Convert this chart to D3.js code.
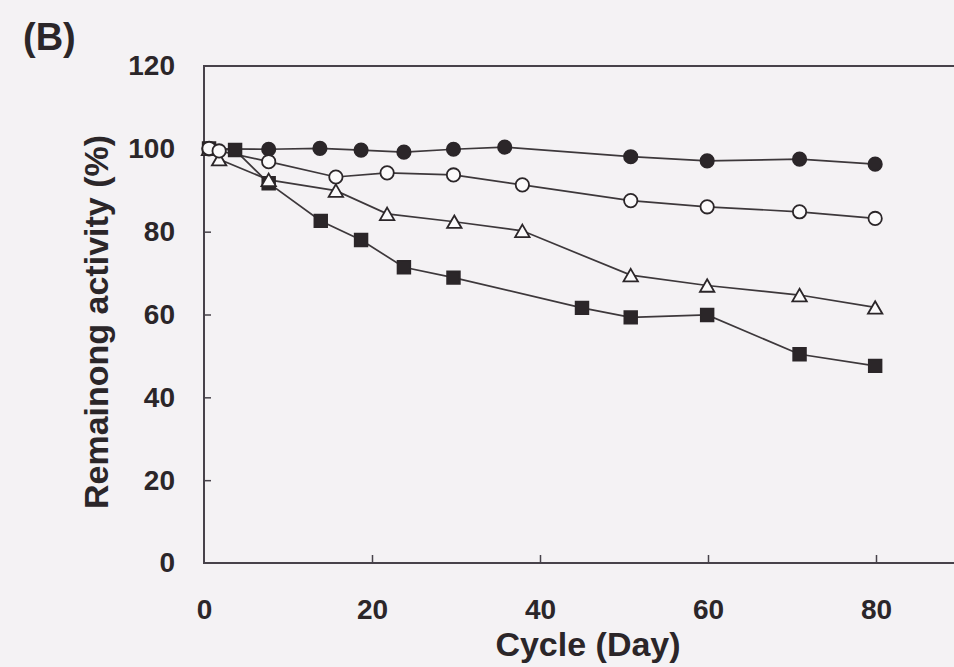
<!DOCTYPE html>
<html>
<head>
<meta charset="utf-8">
<script src="https://cdn.jsdelivr.net/npm/d3@7"></script>
<style>
  html, body { margin: 0; padding: 0; background: #f4f2f4; }
  svg { display: block; }
  text { font-family: "Liberation Sans", Arial, sans-serif; font-weight: bold; fill: #2b2629; }
</style>
</head>
<body>
<svg id="chart" width="954" height="667"></svg>
<script>
// ---- data ----
const xTicks = [0, 20, 40, 60, 80];
const yTicks = [0, 20, 40, 60, 80, 100, 120];

const filledCircleDays   = [0.6, 7.7, 13.8, 18.7, 23.8, 29.7, 35.8, 50.8, 59.9, 70.9, 79.9];
const filledCircleValues = [100, 99.9, 100.1, 99.7, 99.2, 99.9, 100.4, 98.1, 97.1, 97.5, 96.3];

const openCircleDays   = [0.6, 1.8, 7.7, 15.7, 21.8, 29.7, 37.9, 50.8, 59.9, 70.9, 79.9];
const openCircleValues = [100.1, 99.5, 96.9, 93.2, 94.2, 93.7, 91.3, 87.5, 86.0, 84.8, 83.2];

const openTriangleDays   = [0.6, 1.8, 7.7, 15.7, 21.8, 29.8, 37.9, 50.8, 59.9, 70.9, 79.9];
const openTriangleValues = [100, 97.5, 92.5, 89.9, 84.3, 82.4, 80.2, 69.5, 67.0, 64.7, 61.7];

const filledSquareDays   = [0.6, 3.7, 7.7, 13.9, 18.7, 23.8, 29.7, 45.0, 50.8, 59.9, 70.9, 79.9];
const filledSquareValues = [100.1, 99.7, 91.7, 82.6, 78.0, 71.4, 68.9, 61.6, 59.3, 59.9, 50.4, 47.6];

// ---- drawing ----
const svg = d3.select("#chart");
const ink = "#2b2629";
const lineInk = "#3d383b";

const x = d3.scaleLinear().domain([0, 100]).range([204, 1044]);
const y = d3.scaleLinear().domain([0, 120]).range([563, 66]);

// frame (right side lies beyond the visible area, as in the cropped original)
svg.append("rect")
  .attr("x", x(0)).attr("y", y(120))
  .attr("width", x(100) - x(0)).attr("height", y(0) - y(120))
  .attr("fill", "none").attr("stroke", "#47424a").attr("stroke-width", 2);

// axes with inward ticks
const yAxis = svg.append("g").attr("transform", `translate(${x(0)},0)`)
  .call(d3.axisLeft(y).tickValues(yTicks).tickSize(-7).tickPadding(29).tickFormat(d3.format("d")));
const xAxis = svg.append("g").attr("transform", `translate(0,${y(0)})`)
  .call(d3.axisBottom(x).tickValues(xTicks).tickSize(-8).tickPadding(36).tickFormat(d3.format("d")));
[yAxis, xAxis].forEach(g => {
  g.select(".domain").remove();
  g.selectAll(".tick line").attr("stroke", "#47424a").attr("stroke-width", 1.5);
  g.selectAll(".tick text").style("font-size", "28px").attr("fill", ink);
});
yAxis.selectAll(".tick line").filter(d => d === 0 || d === 120).remove();
xAxis.selectAll(".tick line").filter(d => d === 0).remove();

// titles
svg.append("text").attr("x", 23).attr("y", 50).style("font-size", "38px").text("(B)");
svg.append("text").attr("x", 588).attr("y", 656).attr("text-anchor", "middle")
  .style("font-size", "34px").text("Cycle (Day)");
svg.append("text").attr("transform", "translate(108,322) rotate(-90)")
  .attr("text-anchor", "middle").style("font-size", "34px").text("Remainong activity (%)");

// triangle centred on its bounding box
const bboxTriangle = {
  draw(ctx, size) {
    const s = Math.sqrt(size * 4 / Math.sqrt(3));
    const h = s * Math.sqrt(3) / 2;
    ctx.moveTo(0, -h / 2);
    ctx.lineTo(s / 2, h / 2);
    ctx.lineTo(-s / 2, h / 2);
    ctx.closePath();
  }
};

const series = [
  { days: filledSquareDays,   vals: filledSquareValues,   type: d3.symbolSquare, size: 160, fill: ink },
  { days: openTriangleDays,   vals: openTriangleValues,   type: bboxTriangle,    size: 90,  fill: "#fbfafb" },
  { days: filledCircleDays,   vals: filledCircleValues,   type: d3.symbolCircle, size: 140, fill: ink },
  { days: openCircleDays,     vals: openCircleValues,     type: d3.symbolCircle, size: 140, fill: "#fbfafb" }
];

const line = d3.line().x(d => x(d[0])).y(d => y(d[1]));

series.forEach(s => {
  const pts = s.days.map((d, i) => [d, s.vals[i]]);
  svg.append("path").datum(pts).attr("d", line)
    .attr("fill", "none").attr("stroke", lineInk).attr("stroke-width", 1.7);
});
series.forEach(s => {
  const pts = s.days.map((d, i) => [d, s.vals[i]]);
  svg.append("g").selectAll("path").data(pts).join("path")
    .attr("transform", d => `translate(${x(d[0])},${y(d[1])})`)
    .attr("d", d3.symbol().type(s.type).size(s.size))
    .attr("fill", s.fill).attr("stroke", ink).attr("stroke-width", 1.8);
});
</script>
</body>
</html>
